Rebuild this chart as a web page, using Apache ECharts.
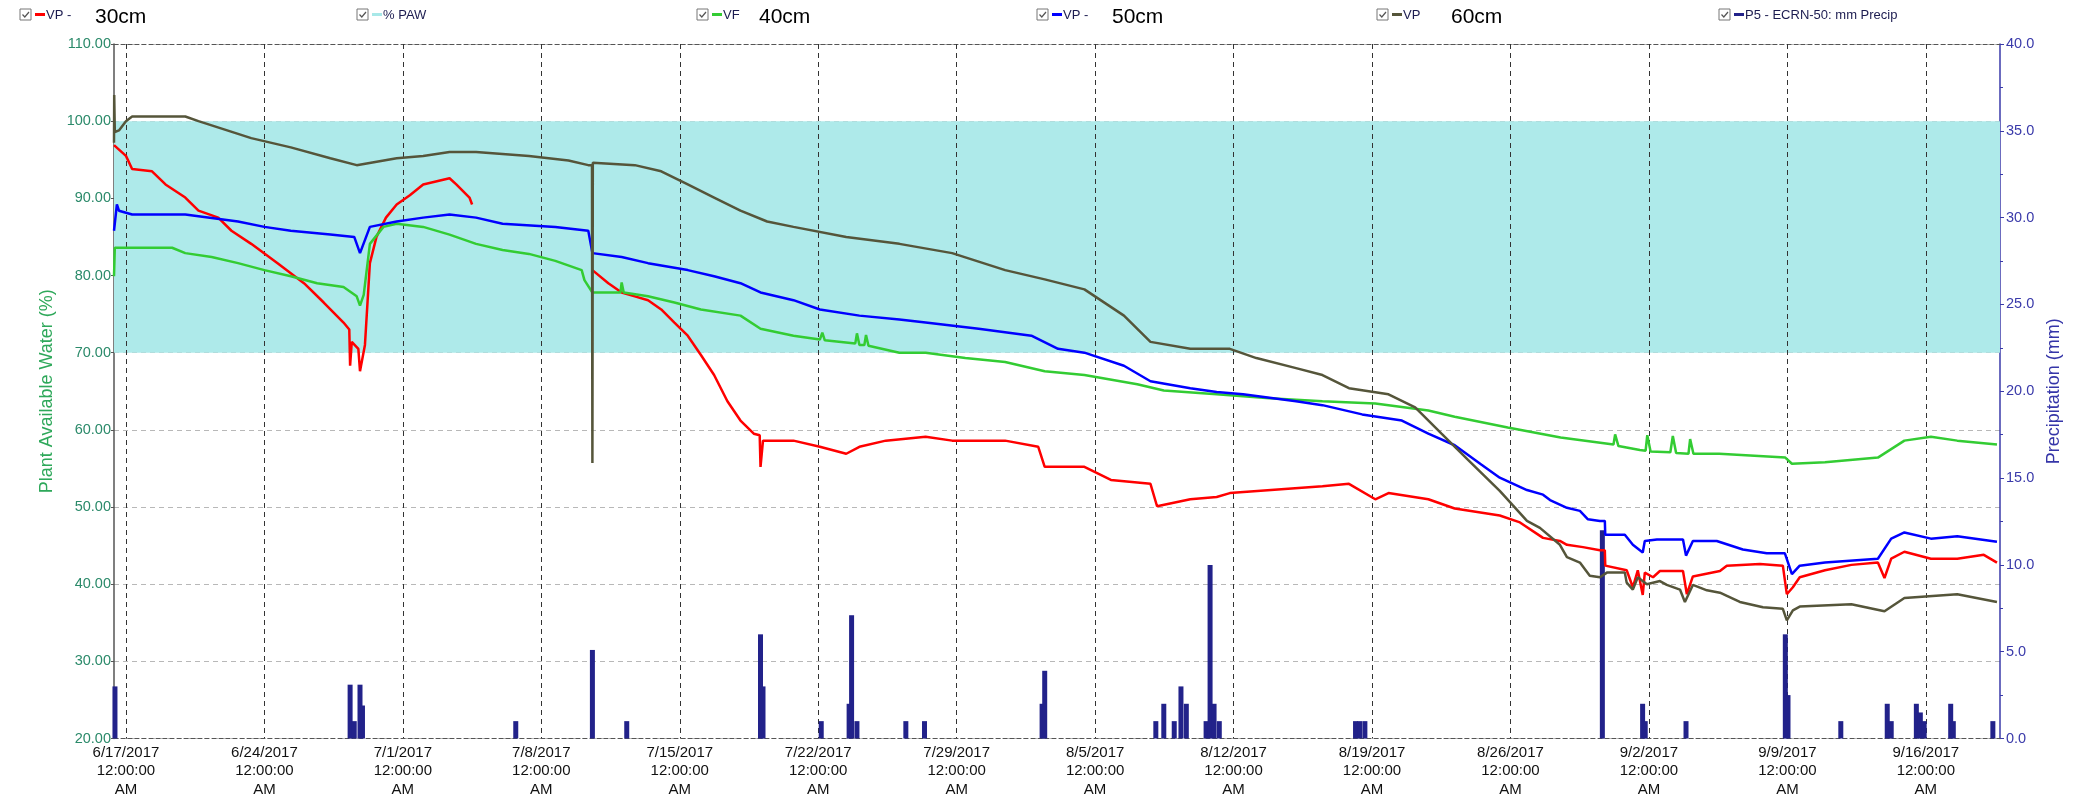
<!DOCTYPE html>
<html>
<head>
<meta charset="utf-8">
<script src="https://cdn.jsdelivr.net/npm/echarts@6/dist/echarts.min.js"></script>
<style>html,body{margin:0;padding:0;background:#fff;}#c{width:2075px;height:799px;}</style>
</head>
<body>
<div id="c"></div>
<script>
// ---------------- DATA ----------------
const tickDates = ['2017-06-17','2017-06-24','2017-07-01','2017-07-08','2017-07-15','2017-07-22','2017-07-29','2017-08-05','2017-08-12','2017-08-19','2017-08-26','2017-09-02','2017-09-09','2017-09-16'];
const axisStart = '2017-06-16 09:30';
const axisEnd = '2017-09-19 18:00';
const pawBand = [70, 100];
const legendNames = ['VP - ', '% PAW', 'VF', 'VP - ', 'VP', 'P5 - ECRN-50: mm Precip'];
const depthLabels = ['30cm', '', '40cm', '50cm', '60cm', ''];
const seriesNames = ['VP - 30cm', '% PAW', 'VF 40cm', 'VP - 50cm', 'VP 60cm', 'P5 - ECRN-50: mm Precip'];

const vp30 = [
['2017-06-16 09:30',96.9],['2017-06-17 00:00',95.5],['2017-06-17 07:30',93.8],['2017-06-18 07:40',93.5],
['2017-06-19 00:00',91.8],['2017-06-20 00:00',90.1],['2017-06-20 16:00',88.4],['2017-06-21 16:00',87.5],
['2017-06-22 08:00',85.8],['2017-06-23 08:00',84.1],['2017-06-24 16:00',81.6],['2017-06-26 00:00',79.0],
['2017-06-27 00:00',76.5],['2017-06-28 00:00',73.9],['2017-06-28 07:00',73.0],['2017-06-28 08:00',68.3],
['2017-06-28 10:00',71.4],['2017-06-28 18:00',70.5],['2017-06-28 20:00',67.6],['2017-06-29 02:00',71.0],
['2017-06-29 08:00',81.6],['2017-06-29 16:00',85.0],['2017-06-30 03:30',87.5],['2017-06-30 16:30',89.2],
['2017-07-01 08:30',90.4],['2017-07-02 00:40',91.8],['2017-07-03 08:40',92.6],['2017-07-03 16:50',91.8],
['2017-07-04 08:50',90.1],['2017-07-04 12:00',89.2],['2017-07-07 00:00','-'],
['2017-07-10 14:00',80.7],['2017-07-11 09:20',79.0],['2017-07-12 01:30',77.8],['2017-07-12 17:30',77.3],
['2017-07-13 09:30',76.8],['2017-07-14 01:30',75.6],['2017-07-14 17:30',73.9],['2017-07-15 09:40',72.2],
['2017-07-16 01:40',69.7],['2017-07-16 17:40',67.1],['2017-07-17 09:50',63.7],['2017-07-18 01:40',61.2],
['2017-07-18 17:50',59.5],['2017-07-19 01:00',59.3],['2017-07-19 02:00',55.2],['2017-07-19 05:00',58.6],
['2017-07-20 18:00',58.6],['2017-07-22 02:00',57.8],['2017-07-23 10:00',56.9],['2017-07-24 02:00',57.8],
['2017-07-25 10:00',58.6],['2017-07-27 10:20',59.1],['2017-07-28 18:30',58.6],['2017-07-31 10:50',58.6],
['2017-08-02 03:00',57.8],['2017-08-02 10:50',55.2],['2017-08-04 11:00',55.2],['2017-08-05 19:10',53.5],
['2017-08-07 19:10',53.0],['2017-08-08 03:10',50.1],['2017-08-09 19:30',51.0],['2017-08-11 03:30',51.3],
['2017-08-11 19:30',51.8],['2017-08-16 11:50',52.7],['2017-08-17 20:00',53.0],['2017-08-19 04:00',51.0],
['2017-08-19 20:00',51.8],['2017-08-21 20:20',51.0],['2017-08-23 04:20',49.8],['2017-08-25 11:00',48.9],
['2017-08-26 11:30',48.0],['2017-08-27 15:30',46.0],['2017-08-28 12:00',45.6],['2017-08-28 20:30',45.1],
['2017-08-29 16:00',44.8],['2017-08-30 12:30',44.4],['2017-08-30 18:30',44.4],['2017-08-30 19:00',42.4],
['2017-08-31 21:00',41.8],['2017-09-01 04:30',39.6],['2017-09-01 10:30',41.8],['2017-09-01 16:30',38.6],
['2017-09-01 19:00',41.5],['2017-09-02 05:00',40.9],['2017-09-02 13:20',41.7],['2017-09-03 17:20',41.7],
['2017-09-03 22:00',38.7],['2017-09-04 05:20',41.0],['2017-09-05 14:10',41.7],['2017-09-05 22:30',42.4],
['2017-09-07 14:40',42.6],['2017-09-08 18:30',42.4],['2017-09-08 23:20',38.7],['2017-09-09 06:40',39.6],
['2017-09-09 15:00',40.9],['2017-09-10 21:40',41.8],['2017-09-12 05:40',42.5],['2017-09-13 13:50',42.8],
['2017-09-13 21:50',40.8],['2017-09-14 06:00',43.3],['2017-09-14 22:00',44.2],['2017-09-16 06:10',43.3],
['2017-09-17 14:10',43.3],['2017-09-18 22:20',43.8],['2017-09-19 14:20',42.8]
];

const vf40 = [
['2017-06-16 09:30',79.9],['2017-06-16 10:30',83.6],['2017-06-19 08:00',83.6],['2017-06-20 00:00',82.9],
['2017-06-21 08:00',82.4],['2017-06-22 16:00',81.6],['2017-06-24 00:00',80.7],['2017-06-25 08:00',79.9],
['2017-06-26 16:00',79.0],['2017-06-28 00:00',78.5],['2017-06-28 16:00',77.3],['2017-06-28 20:00',76.1],
['2017-06-29 00:30',77.5],['2017-06-29 08:00',84.1],['2017-06-30 00:30',86.3],['2017-06-30 16:30',86.7],
['2017-07-02 00:40',86.3],['2017-07-03 08:40',85.3],['2017-07-04 16:50',84.1],['2017-07-06 01:00',83.3],
['2017-07-07 09:00',82.8],['2017-07-08 17:00',81.9],['2017-07-10 01:00',80.7],['2017-07-10 04:20',79.4],
['2017-07-10 14:00',77.8],['2017-07-12 00:00',77.8],['2017-07-12 01:30',79.1],['2017-07-12 04:00',77.8],
['2017-07-13 09:30',77.3],['2017-07-14 17:30',76.5],['2017-07-16 01:40',75.6],['2017-07-18 01:40',74.8],
['2017-07-19 02:00',73.1],['2017-07-20 18:00',72.2],['2017-07-22 02:00',71.7],['2017-07-22 05:00',72.6],
['2017-07-22 08:00',71.6],['2017-07-23 21:00',71.2],['2017-07-23 23:00',72.5],['2017-07-24 02:00',71.0],
['2017-07-24 08:00',71.0],['2017-07-24 10:00',72.3],['2017-07-24 13:00',70.9],
['2017-07-26 02:30',70.0],['2017-07-27 10:20',70.0],['2017-07-29 10:30',69.3],['2017-07-31 10:50',68.8],
['2017-08-02 10:50',67.6],['2017-08-04 11:00',67.1],['2017-08-07 03:10',65.9],['2017-08-08 11:20',65.1],
['2017-08-11 03:30',64.6],['2017-08-13 19:40',64.1],['2017-08-16 11:50',63.7],['2017-08-19 04:00',63.4],
['2017-08-21 20:20',62.5],['2017-08-23 04:20',61.7],['2017-08-25 20:40',60.3],['2017-08-28 12:50',59.0],
['2017-08-31 05:00',58.1],['2017-08-31 07:00',59.4],['2017-08-31 11:00',57.9],['2017-09-01 13:00',57.4],
['2017-09-01 20:00',57.3],['2017-09-01 22:00',59.3],['2017-09-02 02:00',57.2],['2017-09-03 02:00',57.1],
['2017-09-03 05:00',59.2],['2017-09-03 09:00',57.0],['2017-09-04 00:00',56.9],['2017-09-04 02:00',58.8],
['2017-09-04 06:00',56.9],['2017-09-05 13:20',56.9],
['2017-09-08 21:30',56.4],['2017-09-09 05:30',55.6],['2017-09-10 21:40',55.8],['2017-09-13 13:50',56.4],
['2017-09-14 22:00',58.6],['2017-09-16 06:10',59.1],['2017-09-17 14:10',58.6],['2017-09-19 14:20',58.1]
];

const vp50 = [
['2017-06-16 09:30',85.8],['2017-06-16 13:00',89.2],['2017-06-16 15:30',88.4],['2017-06-17 07:30',87.9],
['2017-06-20 00:00',87.9],['2017-06-22 16:00',87.0],['2017-06-24 00:00',86.3],['2017-06-25 08:00',85.8],
['2017-06-27 08:00',85.3],['2017-06-28 13:00',85.0],['2017-06-28 20:00',82.9],['2017-06-29 08:00',86.3],
['2017-06-30 16:30',87.0],['2017-07-02 00:40',87.5],['2017-07-03 08:40',87.9],['2017-07-04 16:50',87.5],
['2017-07-06 01:00',86.7],['2017-07-08 17:00',86.3],['2017-07-10 09:00',85.8],['2017-07-10 14:00',82.9],
['2017-07-12 01:30',82.4],['2017-07-13 09:30',81.6],['2017-07-15 09:40',80.7],['2017-07-16 17:40',79.9],
['2017-07-18 01:40',79.0],['2017-07-19 02:00',77.8],['2017-07-20 18:00',76.8],['2017-07-22 02:00',75.6],
['2017-07-24 02:00',74.8],['2017-07-26 02:30',74.3],['2017-07-27 10:20',73.9],['2017-07-30 02:40',73.1],
['2017-08-01 18:40',72.2],['2017-08-03 03:00',70.5],['2017-08-04 11:00',70.0],['2017-08-06 11:00',68.3],
['2017-08-07 19:10',66.3],['2017-08-09 19:30',65.4],['2017-08-11 03:30',64.9],['2017-08-12 11:30',64.6],
['2017-08-15 03:50',63.7],['2017-08-16 11:50',63.2],['2017-08-18 12:00',62.0],['2017-08-20 12:15',61.2],
['2017-08-21 20:20',59.5],['2017-08-23 04:20',58.0],['2017-08-24 12:30',55.5],['2017-08-25 11:00',53.8],
['2017-08-26 20:00',52.2],['2017-08-27 15:30',51.6],['2017-08-28 00:00',50.9],['2017-08-28 20:30',49.9],
['2017-08-29 12:15',49.5],['2017-08-29 22:00',48.4],['2017-08-30 12:30',48.2],['2017-08-30 18:30',48.2],
['2017-08-30 19:00',46.4],['2017-08-31 18:45',46.4],['2017-09-01 04:30',45.1],['2017-09-01 16:30',44.1],
['2017-09-01 19:00',45.6],['2017-09-02 09:40',45.8],['2017-09-03 17:20',45.8],['2017-09-03 21:00',43.7],
['2017-09-04 05:20',45.6],['2017-09-05 10:20',45.6],['2017-09-06 18:00',44.5],['2017-09-07 23:00',44.0],
['2017-09-08 21:00',44.0],['2017-09-09 05:30',41.3],['2017-09-09 15:00',42.4],['2017-09-10 21:40',42.8],
['2017-09-13 13:50',43.3],['2017-09-14 06:00',45.9],['2017-09-14 22:00',46.7],['2017-09-16 06:10',45.9],
['2017-09-17 14:10',46.2],['2017-09-19 14:20',45.5]
];

const vp60 = [
['2017-06-16 09:30',97.2],['2017-06-16 09:45',103.4],['2017-06-16 10:30',98.6],['2017-06-16 15:30',98.8],
['2017-06-17 00:00',100.0],['2017-06-17 07:30',100.6],['2017-06-20 00:00',100.6],['2017-06-20 16:00',100.0],
['2017-06-22 00:00',98.9],['2017-06-23 08:00',97.8],['2017-06-25 08:00',96.6],['2017-06-27 08:00',95.2],
['2017-06-28 16:00',94.3],['2017-06-30 16:30',95.2],['2017-07-02 00:40',95.5],['2017-07-03 08:40',96.0],
['2017-07-04 16:50',96.0],['2017-07-07 09:00',95.5],['2017-07-09 09:00',94.9],['2017-07-10 09:00',94.3],
['2017-07-10 13:30',94.3],['2017-07-10 14:00',55.7],['2017-07-10 14:30',94.6],['2017-07-12 17:30',94.3],
['2017-07-14 01:30',93.5],['2017-07-15 09:40',91.8],['2017-07-16 17:40',90.1],['2017-07-18 01:40',88.4],
['2017-07-19 10:00',87.0],['2017-07-20 18:00',86.3],['2017-07-23 10:00',85.0],['2017-07-26 02:30',84.1],
['2017-07-28 18:30',82.9],['2017-07-31 10:50',80.7],['2017-08-02 10:50',79.5],['2017-08-04 11:00',78.2],
['2017-08-06 11:00',74.8],['2017-08-07 19:10',71.4],['2017-08-09 19:30',70.5],['2017-08-11 19:30',70.5],
['2017-08-13 03:40',69.3],['2017-08-15 03:50',68.0],['2017-08-16 11:50',67.1],['2017-08-17 20:00',65.4],
['2017-08-19 20:00',64.6],['2017-08-21 04:20',62.9],['2017-08-22 12:20',59.5],['2017-08-23 20:30',56.1],
['2017-08-25 11:00',52.1],['2017-08-26 03:00',50.2],['2017-08-26 20:00',48.2],['2017-08-27 11:45',47.3],
['2017-08-28 12:00',45.1],['2017-08-28 20:30',43.5],['2017-08-29 12:15',42.8],['2017-08-30 00:15',41.1],
['2017-08-30 12:30',40.9],['2017-08-30 21:00',41.5],['2017-08-31 18:45',41.5],['2017-08-31 21:00',40.2],
['2017-09-01 04:30',39.3],['2017-09-01 10:30',40.9],['2017-09-01 21:30',40.0],['2017-09-02 13:20',40.4],
['2017-09-02 21:40',39.9],['2017-09-03 13:40',39.3],['2017-09-03 19:40',37.7],['2017-09-04 05:20',39.9],
['2017-09-04 22:20',39.2],['2017-09-05 14:10',38.9],['2017-09-06 14:20',37.7],['2017-09-07 18:20',37.0],
['2017-09-08 18:30',36.8],['2017-09-08 23:20',35.3],['2017-09-09 06:40',36.6],['2017-09-09 15:00',37.1],
['2017-09-12 05:40',37.4],['2017-09-13 21:50',36.5],['2017-09-14 22:00',38.2],['2017-09-17 14:10',38.7],
['2017-09-19 14:20',37.7]
];

const precip = [
['2017-06-16 10:40',3.0],['2017-06-28 08:00',3.1],['2017-06-28 13:00',1.0],['2017-06-28 20:00',3.1],
['2017-06-28 23:00',1.9],['2017-07-06 17:00',1.0],['2017-07-10 14:00',5.1],['2017-07-12 07:40',1.0],
['2017-07-19 02:00',6.0],['2017-07-19 05:00',3.0],['2017-07-22 03:40',1.0],['2017-07-23 13:30',2.0],
['2017-07-23 16:30',7.1],['2017-07-23 23:00',1.0],['2017-07-26 10:20',1.0],['2017-07-27 09:00',1.0],
['2017-08-02 07:40',2.0],['2017-08-02 10:50',3.9],['2017-08-08 01:40',1.0],['2017-08-08 11:20',2.0],
['2017-08-09 00:00',1.0],['2017-08-09 08:10',3.0],['2017-08-09 14:40',2.0],['2017-08-10 14:40',1.0],
['2017-08-10 19:30',10.0],['2017-08-11 00:20',2.0],['2017-08-11 06:40',1.0],['2017-08-18 04:00',1.0],
['2017-08-18 09:00',1.0],['2017-08-18 15:20',1.0],['2017-08-30 15:30',12.0],['2017-09-01 16:20',2.0],
['2017-09-01 19:30',1.0],['2017-09-03 21:00',1.0],['2017-09-08 21:30',6.0],['2017-09-09 00:45',2.5],
['2017-09-11 16:50',1.0],['2017-09-14 01:10',2.0],['2017-09-14 06:00',1.0],['2017-09-15 12:30',2.0],
['2017-09-15 17:20',1.5],['2017-09-15 22:00',1.0],['2017-09-17 06:10',2.0],['2017-09-17 09:20',1.0],
['2017-09-19 09:20',1.0]
];

// ---------------- CHART ----------------
const FONT = '"Liberation Sans", Arial, sans-serif';
const toTs = s => { const p = s.split(/[- :]/).map(Number); return new Date(p[0], p[1]-1, p[2], p[3]||0, p[4]||0).getTime(); };
const ticks = tickDates.map(toTs);
const xMin = toTs(axisStart), xMax = toTs(axisEnd);
const conv = arr => arr.map(d => [toTs(d[0]), d[1]]);

function fmtLabel(v) {
  const d = new Date(v);
  let h = d.getHours(); const ap = h < 12 ? 'AM' : 'PM'; h = h % 12; if (h === 0) h = 12;
  const mm = String(d.getMinutes()).padStart(2,'0'), ss = String(d.getSeconds()).padStart(2,'0');
  return (d.getMonth()+1) + '/' + d.getDate() + '/' + d.getFullYear() + '\n' + h + ':' + mm + ':' + ss + '\n' + ap;
}

const colors = ['#ff0000', '#a8e8e8', '#33cc33', '#0000ff', '#55553a', '#22228a'];

const lineSeries = (name, data, color) => ({
  name, type:'line', data: conv(data), xAxisIndex:0, yAxisIndex:0, showSymbol:false, symbol:'none',
  connectNulls:false, lineStyle:{color, width:2.5}, itemStyle:{color}, z:3, silent:true
});

// legend graphics
const legX = [20, 357, 697, 1037, 1377, 1719];
const graphics = [];
legendNames.forEach((n, i) => {
  const x = legX[i], y = 9;
  graphics.push({type:'rect', shape:{x:x, y:y, width:11, height:11}, style:{fill:'#fff', stroke:'#777', lineWidth:1}});
  graphics.push({type:'polyline', shape:{points:[[x+2.5,y+5.5],[x+4.8,y+8],[x+9,y+3]]}, style:{stroke:'#555', lineWidth:1.2, fill:null}});
  graphics.push({type:'line', shape:{x1:x+15, y1:y+5.5, x2:x+25, y2:y+5.5}, style:{stroke:colors[i], lineWidth:3}});
  graphics.push({type:'text', style:{text:n, x:x+26, y:y+6, font:'13px ' + FONT, fill:'#1c1c50', verticalAlign:'middle'}});
});
const bigX = [95, 0, 759, 1112, 1451, 0];
depthLabels.forEach((t, i) => {
  if (!t) return;
  graphics.push({type:'text', style:{text:t, x:bigX[i], y:17, font:'21px ' + FONT, fill:'#000', verticalAlign:'middle'}});
});

const chart = echarts.init(document.getElementById('c'));
chart.setOption({
  animation:false,
  backgroundColor:'#fff',
  grid:{left:114, right:75, top:44, bottom:57},
  graphic: graphics,
  xAxis:[{
    type:'value', min:xMin, max:xMax, position:'bottom', z:1.5, scale:true,
    axisLine:{show:true, lineStyle:{color:'#555', type:[4,3], width:1}},
    axisTick:{show:false, customValues:ticks},
    axisLabel:{customValues:ticks, formatter:fmtLabel, color:'#111', fontSize:15, lineHeight:18.5, margin:5, fontFamily:FONT, hideOverlap:false},
    splitLine:{show:true, lineStyle:{color:'#333', type:[5,4], width:1}}
  },{
    type:'value', min:xMin, max:xMax, position:'top', scale:true,
    axisLine:{show:true, lineStyle:{color:'#555', type:[4,3], width:1}},
    axisTick:{show:false}, axisLabel:{show:false}, splitLine:{show:false}
  }],
  yAxis:[{
    type:'value', min:20, max:110, interval:10, position:'left',
    name:'Plant Available Water (%)', nameLocation:'middle', nameGap:50,
    nameTextStyle:{color:'#2ea85a', fontSize:18, fontFamily:FONT},
    axisLine:{show:true, lineStyle:{color:'#555', width:1.5}},
    axisTick:{show:true, length:3, lineStyle:{color:'#555'}},
    axisLabel:{formatter:v => v.toFixed(2), color:'#2b8a6a', fontSize:14.5, margin:3, fontFamily:FONT},
    splitLine:{show:true, lineStyle:{color:'#b8b8b8', type:[5,4], width:1}}
  },{
    type:'value', min:0, max:40, interval:5, position:'right',
    name:'Precipitation (mm)', nameLocation:'middle', nameGap:30,
    nameTextStyle:{color:'#3535a8', fontSize:18, fontFamily:FONT},
    axisLine:{show:true, lineStyle:{color:'#3a3aaa', width:1.5}},
    axisTick:{show:true, length:4, lineStyle:{color:'#3a3aaa'}},
    minorTick:{show:true, splitNumber:2, length:3, lineStyle:{color:'#3a3aaa'}},
    axisLabel:{formatter:v => v.toFixed(1), color:'#3a3aaa', fontSize:14.5, margin:6, fontFamily:FONT},
    splitLine:{show:false}
  }],
  series:[
    {name:seriesNames[1], type:'line', data:[], xAxisIndex:0, yAxisIndex:0, z:1, silent:true,
     itemStyle:{color:colors[1]},
     markArea:{silent:true, itemStyle:{color:'#aeeaea', opacity:1}, data:[[{yAxis:pawBand[0]},{yAxis:pawBand[1]}]]}},
    lineSeries(seriesNames[0], vp30, colors[0]),
    lineSeries(seriesNames[2], vf40, colors[2]),
    lineSeries(seriesNames[3], vp50, colors[3]),
    lineSeries(seriesNames[4], vp60, colors[4]),
    {name:seriesNames[5], type:'bar', data:conv(precip), xAxisIndex:0, yAxisIndex:1, barWidth:5,
     itemStyle:{color:colors[5]}, z:3, silent:true}
  ]
});
</script>
</body>
</html>
